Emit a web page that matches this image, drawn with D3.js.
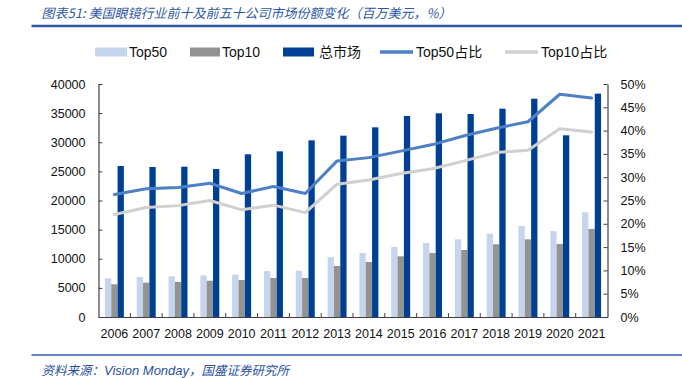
<!DOCTYPE html>
<html><head><meta charset="utf-8">
<script src="https://cdn.jsdelivr.net/npm/d3@7"></script>
<style>body{margin:0;background:#fff}svg{display:block}</style>
</head><body>
<script>
const years = ["2006","2007","2008","2009","2010","2011","2012","2013","2014","2015","2016","2017","2018","2019","2020","2021"];
const top50 = [6650,6870,6990,7160,7270,7900,7950,10250,10990,12020,12700,13330,14300,15620,14760,17970];
const top10 = [5610,5890,6010,6230,6350,6700,6700,8760,9440,10420,10990,11500,12480,13330,12530,15110];
const total = [25920,25750,25800,25400,27930,28440,30330,31130,32560,34500,34970,34850,35760,37480,31190,38340];
const top50Share = [0.263,0.275,0.278,0.287,0.265,0.280,0.265,0.335,0.342,0.356,0.370,0.389,0.405,0.419,0.478,0.470];
const top10Share = [0.220,0.235,0.239,0.250,0.230,0.240,0.224,0.285,0.294,0.308,0.318,0.335,0.353,0.358,0.404,0.397];
const leftTicks = [0,5000,10000,15000,20000,25000,30000,35000,40000];
const rightTicks = [0,0.05,0.10,0.15,0.20,0.25,0.30,0.35,0.40,0.45,0.50];
const legendLabels = ["Top50","Top10","总市场","Top50占比","Top10占比"];
const titleText = "图表51:  美国眼镜行业前十及前五十公司市场份额变化（百万美元，%）";
const sourceText = "资料来源：";
const sourceLatin = "Vision Monday";
const sourceTail = "，国盛证券研究所";

const colors = {top50:"#c5d6ec", top10:"#939393", total:"#003f93", l50:"#4d80c6", l10:"#d0d0d0", blue:"#2d59a6"};
const W = 682, H = 378;
const svg = d3.select("body").append("svg").attr("width",W).attr("height",H);
const latin = "'Liberation Sans', Arial, sans-serif";
const cjk = "'Noto Sans CJK SC', sans-serif";

// title
svg.append("text").attr("x",41.5).attr("y",17.5).attr("font-family",cjk).attr("font-size",13)
  .attr("font-style","italic").attr("fill",colors.blue).text(titleText);
svg.append("line").attr("x1",31.5).attr("x2",W).attr("y1",26).attr("y2",26)
  .attr("stroke",colors.blue).attr("stroke-width",2.5);

// scales
const x = d3.scaleBand().domain(years).range([98.5,607.5]).padding(0);
const y = d3.scaleLinear().domain([0,40000]).range([317,84]);
const yR = d3.scaleLinear().domain([0,0.5]).range([317,84]);
const bw = x.bandwidth();
const barW = 6.3;
const keys = ["top50","top10","total"];
const x1 = d3.scaleBand().domain(keys).range([bw/2-9.5, bw/2+9.5]).padding(0);

const data = years.map((yr,i)=>({yr, top50:top50[i], top10:top10[i], total:total[i]}));
const g = svg.append("g");
keys.forEach(k=>{
  g.selectAll(null).data(data).enter().append("rect")
    .attr("x",d=>x(d.yr)+x1(k)).attr("width",barW)
    .attr("y",d=>y(d[k])).attr("height",d=>y(0)-y(d[k]))
    .attr("fill",colors[k]);
});

// lines
const line = d3.line().x((d,i)=>x(years[i])+bw/2).y(d=>yR(d));
svg.append("path").attr("d",line(top10Share)).attr("fill","none").attr("stroke",colors.l10)
  .attr("stroke-width",3).attr("stroke-linejoin","round").attr("stroke-linecap","round");
svg.append("path").attr("d",line(top50Share)).attr("fill","none").attr("stroke",colors.l50)
  .attr("stroke-width",3).attr("stroke-linejoin","round").attr("stroke-linecap","round");

// axes
const axColor = "#404040";
const la = svg.append("g").attr("transform","translate(98.5,0)")
  .call(d3.axisLeft(y).tickValues(leftTicks).tickSizeInner(-4).tickSizeOuter(0).tickPadding(13).tickFormat(d3.format("d")));
const ra = svg.append("g").attr("transform","translate(607.5,0)")
  .call(d3.axisRight(yR).tickValues(rightTicks).tickSizeInner(-4).tickSizeOuter(0).tickPadding(13).tickFormat(d=>Math.round(d*100)+"%"));
const ba = svg.append("g").attr("transform","translate(0,317)")
  .call(d3.axisBottom(x).tickSize(0).tickPadding(12));
[la,ra,ba].forEach(a=>{
  a.selectAll("path.domain").attr("stroke",axColor).attr("stroke-width",1.2);
  a.selectAll("line").attr("stroke",axColor);
  a.selectAll("text").attr("font-family",latin).attr("font-size",12.5).attr("fill","#111");
});
ba.selectAll("g.btick").data(years.slice(1)).enter().append("line")
  .attr("x1",d=>x(d)).attr("x2",d=>x(d)).attr("y1",0).attr("y2",-4).attr("stroke",axColor);

// legend
const lg = svg.append("g");
const ly = 52;
const leg = [
  {type:"rect",c:colors.top50,x:95,w:32,tx:129},
  {type:"rect",c:colors.top10,x:190,w:30,tx:222},
  {type:"rect",c:colors.total,x:283,w:31,tx:319},
  {type:"line",c:colors.l50,x:380,w:33,tx:416},
  {type:"line",c:colors.l10,x:505,w:33,tx:541}
];
leg.forEach((d,i)=>{
  if(d.type==="rect") lg.append("rect").attr("x",d.x).attr("y",ly-4.5).attr("width",d.w).attr("height",9).attr("fill",d.c);
  else lg.append("line").attr("x1",d.x).attr("x2",d.x+d.w).attr("y1",ly).attr("y2",ly).attr("stroke",d.c).attr("stroke-width",3.5);
  lg.append("text").attr("x",d.tx).attr("y",ly+5).attr("font-size",14).attr("fill","#111")
    .attr("font-family",latin+", "+cjk).text(legendLabels[i]);
});

// source
svg.append("line").attr("x1",31.5).attr("x2",W).attr("y1",355).attr("y2",355)
  .attr("stroke",colors.blue).attr("stroke-width",1.5);
const st = svg.append("text").attr("x",41.5).attr("y",375).attr("font-size",12.5)
  .attr("font-style","italic").attr("fill","#2a4f9e").attr("font-family",cjk);
st.append("tspan").text(sourceText);
st.append("tspan").attr("font-family",latin).attr("font-size",13).text(sourceLatin);
st.append("tspan").text(sourceTail);
</script>
</body></html>
